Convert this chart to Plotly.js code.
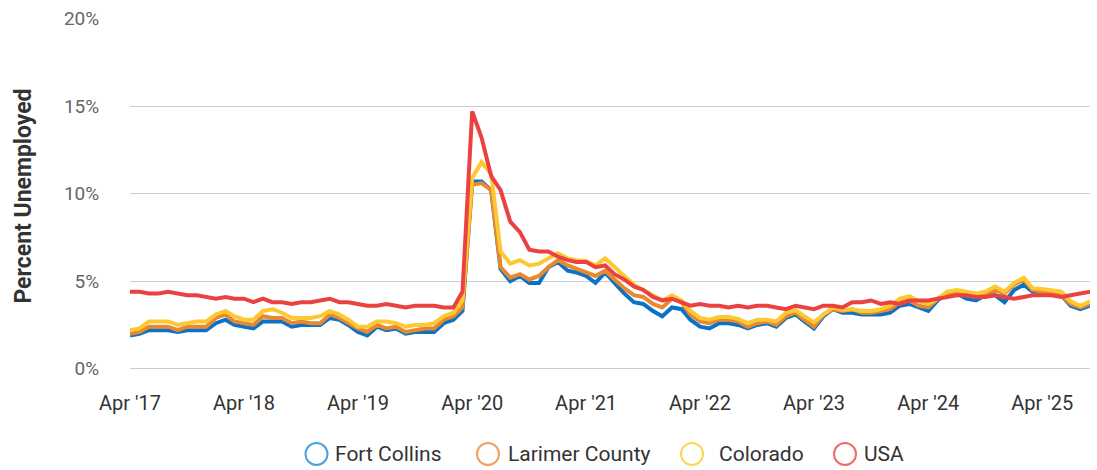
<!DOCTYPE html>
<html>
<head>
<meta charset="utf-8">
<script src="https://cdn.plot.ly/plotly-3.0.1.min.js"></script>
<style>
  html, body { margin: 0; padding: 0; background: #fff; }
  #chart { width: 1097px; height: 470px; }
</style>
</head>
<body>
<div id="chart"></div>
<script>
// Months, Apr 2017 – Sep 2025
const months = [
  "2017-04","2017-05","2017-06","2017-07","2017-08","2017-09","2017-10","2017-11","2017-12",
  "2018-01","2018-02","2018-03","2018-04","2018-05","2018-06","2018-07","2018-08","2018-09","2018-10","2018-11","2018-12",
  "2019-01","2019-02","2019-03","2019-04","2019-05","2019-06","2019-07","2019-08","2019-09","2019-10","2019-11","2019-12",
  "2020-01","2020-02","2020-03","2020-04","2020-05","2020-06","2020-07","2020-08","2020-09","2020-10","2020-11","2020-12",
  "2021-01","2021-02","2021-03","2021-04","2021-05","2021-06","2021-07","2021-08","2021-09","2021-10","2021-11","2021-12",
  "2022-01","2022-02","2022-03","2022-04","2022-05","2022-06","2022-07","2022-08","2022-09","2022-10","2022-11","2022-12",
  "2023-01","2023-02","2023-03","2023-04","2023-05","2023-06","2023-07","2023-08","2023-09","2023-10","2023-11","2023-12",
  "2024-01","2024-02","2024-03","2024-04","2024-05","2024-06","2024-07","2024-08","2024-09","2024-10","2024-11","2024-12",
  "2025-01","2025-02","2025-03","2025-04","2025-05","2025-06","2025-07","2025-08","2025-09"
];

const fortCollins = [
  1.9, 2.0, 2.2, 2.2, 2.2, 2.1, 2.2, 2.2, 2.2,
  2.6, 2.8, 2.5, 2.4, 2.3, 2.7, 2.7, 2.7, 2.4, 2.5, 2.5, 2.5,
  2.9, 2.8, 2.5, 2.1, 1.9, 2.4, 2.2, 2.3, 2.0, 2.1, 2.1, 2.1,
  2.6, 2.8, 3.3, 10.7, 10.7, 10.2, 5.7, 5.0, 5.3, 4.9, 4.9, 5.8,
  6.1, 5.6, 5.5, 5.3, 4.9, 5.5, 4.9, 4.3, 3.8, 3.7, 3.3, 3.0,
  3.5, 3.4, 2.8, 2.4, 2.3, 2.6, 2.6, 2.5, 2.3, 2.5, 2.6, 2.4,
  2.9, 3.1, 2.7, 2.3, 3.0, 3.4, 3.2, 3.2, 3.1, 3.1, 3.1, 3.2,
  3.6, 3.7, 3.5, 3.3, 3.9, 4.3, 4.3, 4.0, 3.9, 4.2, 4.2, 3.8,
  4.5, 4.8, 4.4, 4.4, 4.3, 4.2, 3.6, 3.4, 3.6
];

const larimerCounty = [
  2.0, 2.1, 2.4, 2.4, 2.4, 2.2, 2.4, 2.4, 2.4,
  2.9, 3.1, 2.7, 2.6, 2.5, 3.0, 2.9, 2.9, 2.6, 2.7, 2.6, 2.6,
  3.1, 2.9, 2.6, 2.3, 2.1, 2.5, 2.3, 2.4, 2.1, 2.2, 2.3, 2.3,
  2.8, 3.0, 3.5, 10.5, 10.6, 10.2, 5.8, 5.2, 5.4, 5.1, 5.3, 5.8,
  6.2, 5.9, 5.7, 5.5, 5.3, 5.6, 5.1, 4.6, 4.2, 4.1, 3.7, 3.5,
  4.0, 3.8, 3.1, 2.7, 2.6, 2.8, 2.8, 2.7, 2.4, 2.6, 2.7, 2.5,
  3.0, 3.2, 2.8, 2.4, 3.1, 3.4, 3.3, 3.4, 3.2, 3.2, 3.3, 3.4,
  3.8, 3.9, 3.6, 3.5, 4.0, 4.3, 4.4, 4.2, 4.1, 4.3, 4.5, 4.3,
  4.8, 5.1, 4.5, 4.4, 4.3, 4.2, 3.7, 3.5, 3.7
];

const colorado = [
  2.2, 2.3, 2.7, 2.7, 2.7, 2.5, 2.6, 2.7, 2.7,
  3.1, 3.3, 3.0, 2.8, 2.8, 3.3, 3.4, 3.2, 2.9, 2.9, 2.9, 3.0,
  3.3, 3.1, 2.8, 2.4, 2.4, 2.7, 2.7, 2.6, 2.4, 2.5, 2.5, 2.6,
  3.0, 3.2, 3.9, 10.9, 11.8, 11.1, 6.7, 6.0, 6.2, 5.9, 6.0, 6.3,
  6.6, 6.3, 6.2, 6.15, 5.9, 6.3, 5.8, 5.3, 4.8, 4.5, 4.2, 3.9,
  4.2, 3.9, 3.3, 2.9, 2.8, 2.95, 2.95, 2.85, 2.6, 2.8, 2.8, 2.7,
  3.2, 3.35, 3.0, 2.65, 3.1, 3.5, 3.35, 3.4, 3.3, 3.3, 3.4, 3.6,
  4.0, 4.15, 3.85, 3.7, 4.0, 4.4, 4.5, 4.4, 4.3, 4.4, 4.7, 4.4,
  4.9, 5.2, 4.6, 4.55, 4.45, 4.4, 3.85, 3.6, 3.85
];

const usa = [
  4.4, 4.4, 4.3, 4.3, 4.4, 4.3, 4.2, 4.2, 4.1,
  4.0, 4.1, 4.0, 4.0, 3.8, 4.0, 3.8, 3.8, 3.7, 3.8, 3.8, 3.9,
  4.0, 3.8, 3.8, 3.7, 3.6, 3.6, 3.7, 3.6, 3.5, 3.6, 3.6, 3.6,
  3.5, 3.5, 4.4, 14.7, 13.2, 11.0, 10.2, 8.4, 7.8, 6.8, 6.7, 6.7,
  6.4, 6.2, 6.1, 6.1, 5.8, 5.9, 5.4, 5.1, 4.7, 4.5, 4.1, 3.9,
  4.0, 3.8, 3.6, 3.7, 3.6, 3.6, 3.5, 3.6, 3.5, 3.6, 3.6, 3.5,
  3.4, 3.6, 3.5, 3.4, 3.6, 3.6, 3.5, 3.8, 3.8, 3.9, 3.7, 3.8,
  3.7, 3.9, 3.9, 3.9, 4.0, 4.1, 4.2, 4.2, 4.1, 4.1, 4.2, 4.1,
  4.0, 4.1, 4.2, 4.2, 4.2, 4.1, 4.2, 4.3, 4.4
];

const seriesNames = ["Fort Collins", "Larimer County", "Colorado", "USA"];
const lineColors = ["#0b72c6", "#e8892f", "#fdc830", "#ec4141"];
const legendColors = ["#4ca0df", "#eea060", "#fdd458", "#ef6b6b"];

const xTickVals = ["2017-04-01","2018-04-01","2019-04-01","2020-04-01","2021-04-01","2022-04-01","2023-04-01","2024-04-01","2025-04-01"];
const xTickText = ["Apr '17","Apr '18","Apr '19","Apr '20","Apr '21","Apr '22","Apr '23","Apr '24","Apr '25"];
const yTickVals = [0, 5, 10, 15, 20];
const yTickText = ["0%", "5%", "10%", "15%", "20%"];

const seriesValues = [fortCollins, larimerCounty, colorado, usa];

const traces = seriesValues.map((vals, k) => ({
  type: "scatter",
  mode: "lines",
  name: seriesNames[k],
  x: months,
  y: vals,
  line: { color: lineColors[k], width: 4, shape: "linear" },
  showlegend: false,
  hovertemplate: "%{x|%b %Y}: %{y}%<extra>" + seriesNames[k] + "</extra>"
}));

// Custom legend (hollow circles + labels) placed below the plot
const legendCenters = [316.5, 488, 692, 845];   // px centers of circles
const legendTextX = [333, 506, 717, 862];
const plotL = 130, plotR = 1090, plotT = 18, plotB = 374;
const pw = plotR - plotL, ph = plotB - plotT;
const legY = -(454 - plotB) / ph;

const shapes = legendCenters.map((cx, k) => ({
  type: "circle",
  xref: "paper", yref: "paper",
  xsizemode: "pixel", ysizemode: "pixel",
  xanchor: (cx - plotL) / pw, yanchor: legY,
  x0: -11, x1: 11, y0: -11, y1: 11,
  line: { color: legendColors[k], width: 2 },
  fillcolor: "rgba(0,0,0,0)"
}));

const annotations = legendTextX.map((tx, k) => ({
  xref: "paper", yref: "paper",
  x: (tx - plotL) / pw, y: legY,
  xanchor: "left", yanchor: "middle",
  text: seriesNames[k],
  showarrow: false,
  font: { family: "Roboto, sans-serif", size: 21, color: "#333333" }
}));

const layout = {
  width: 1097, height: 470,
  margin: { l: plotL, r: 1097 - plotR, t: plotT, b: 470 - plotB, pad: 0 },
  paper_bgcolor: "#ffffff",
  plot_bgcolor: "#ffffff",
  font: { family: "Roboto, sans-serif", color: "#333333" },
  showlegend: false,
  xaxis: {
    type: "date",
    range: ["2017-04-01", "2025-09-01"],
    tickvals: xTickVals,
    ticktext: xTickText,
    showgrid: false,
    zeroline: false,
    showline: false,
    ticks: "outside", ticklen: 11, tickcolor: "rgba(0,0,0,0)",
    tickfont: { family: "Roboto, sans-serif", size: 20, color: "#333333" },
    fixedrange: true
  },
  yaxis: {
    range: [-0.3, 20.03],
    tickvals: yTickVals,
    ticktext: yTickText,
    showgrid: true,
    gridcolor: "#cccccc",
    gridwidth: 1.2,
    zeroline: false,
    showline: false,
    ticks: "outside", ticklen: 26, tickcolor: "rgba(0,0,0,0)",
    tickfont: { family: "Roboto, sans-serif", size: 19, color: "#666666" },
    title: {
      text: "<b>Percent Unemployed</b>",
      font: { family: "Roboto, sans-serif", size: 23, color: "#333333" },
      standoff: 25
    },
    fixedrange: true
  },
  shapes: shapes,
  annotations: annotations
};

Plotly.newPlot("chart", traces, layout, { displayModeBar: false, responsive: false });
</script>
</body>
</html>
